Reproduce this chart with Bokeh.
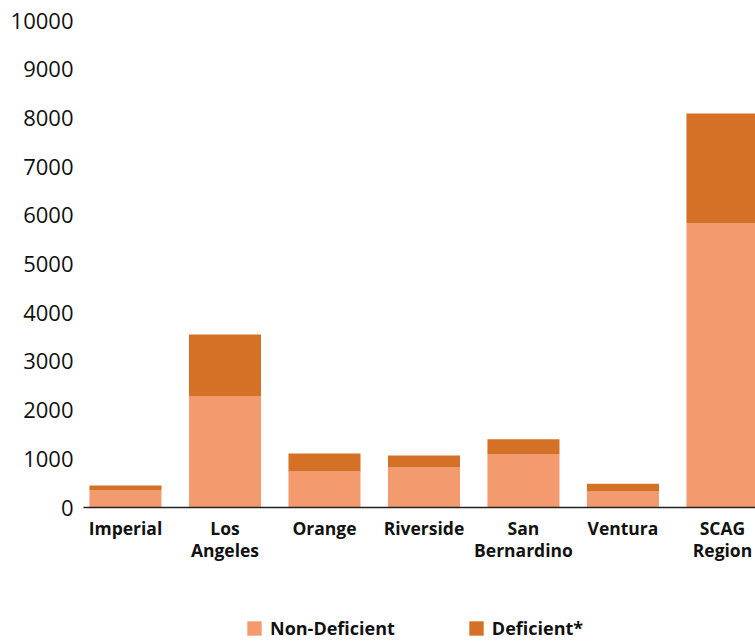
from bokeh.plotting import figure
from bokeh.layouts import column
from bokeh.models import ColumnDataSource, Range1d, FixedTicker, Legend, LegendItem
from bokeh.embed import file_html
from bokeh.resources import INLINE

# ---- data ----
categories = ["Imperial", "Los Angeles", "Orange", "Riverside", "San Bernardino", "Ventura", "SCAG Region"]
tick_labels = ["Imperial", "Los\nAngeles", "Orange", "Riverside", "San\nBernardino", "Ventura", "SCAG\nRegion"]
non_deficient = [350, 2280, 740, 820, 1090, 330, 5830]
deficient = [100, 1270, 370, 250, 310, 160, 2260]
y_ticks = [0, 1000, 2000, 3000, 4000, 5000, 6000, 7000, 8000, 9000, 10000]

series = ["non_deficient", "deficient"]
series_labels = ["Non-Deficient", "Deficient*"]
colors = ["#F39B6F", "#D57127"]

xpos = [i + 0.5 for i in range(len(categories))]
source = ColumnDataSource(dict(x=xpos, non_deficient=non_deficient, deficient=deficient))

FONT = "Open Sans"

fig = figure(width=755, height=610, output_backend="svg", toolbar_location=None,
             x_range=Range1d(0.078, 6.832), y_range=Range1d(0, 10000),
             min_border_left=83, min_border_right=0, min_border_top=20, min_border_bottom=103)
fig.outline_line_color = None
fig.background_fill_color = "white"
fig.border_fill_color = "white"
fig.xgrid.grid_line_color = None
fig.ygrid.grid_line_color = None

fig.vbar_stack(series, x="x", width=0.724, source=source, color=colors, line_color=None)

# y axis
fig.yaxis.ticker = FixedTicker(ticks=y_ticks)
fig.yaxis.axis_line_color = None
fig.yaxis.major_tick_line_color = None
fig.yaxis.minor_tick_line_color = None
fig.yaxis.major_tick_out = 0
fig.yaxis.major_tick_in = 0
fig.yaxis.major_label_standoff = 10
fig.yaxis.major_label_text_font = FONT
fig.yaxis.major_label_text_font_size = "22px"
fig.yaxis.major_label_text_color = "#111111"

# x axis
fig.xaxis.ticker = FixedTicker(ticks=xpos)
fig.xaxis.major_label_overrides = {x: lab for x, lab in zip(xpos, tick_labels)}
fig.xaxis.axis_line_color = "#222222"
fig.xaxis.axis_line_width = 1.5
fig.xaxis.major_tick_line_color = None
fig.xaxis.minor_tick_line_color = None
fig.xaxis.major_tick_out = 0
fig.xaxis.major_tick_in = 0
fig.xaxis.major_label_standoff = 8
fig.xaxis.major_label_text_font = FONT
fig.xaxis.major_label_text_font_style = "bold"
fig.xaxis.major_label_text_font_size = "17.5px"
fig.xaxis.major_label_text_color = "#111111"
fig.xaxis.major_label_text_line_height = 0.95

# legend strip below the chart (its frame is aligned with the chart frame at x=83)
leg_fig = figure(width=755, height=33, output_backend="svg", toolbar_location=None,
                 x_range=Range1d(0, 1), y_range=Range1d(0, 1), min_border=0,
                 min_border_left=83, x_axis_location=None, y_axis_location=None)
leg_fig.grid.visible = False
leg_fig.outline_line_color = None
leg_fig.background_fill_color = "white"
leg_fig.border_fill_color = "white"
# zero-height placeholder glyphs: only their legend swatches are seen
leg_renderers = [leg_fig.vbar(x=[0.5], bottom=[0.5], top=[0.5], width=0.1, color=c, line_color=None)
                 for c in colors]

legend = Legend(items=[LegendItem(label=series_labels[i], renderers=[leg_renderers[i]]) for i in range(2)],
                orientation="horizontal", location=(162, 3),
                glyph_width=18, glyph_height=18, label_height=18, label_standoff=7,
                spacing=72, padding=0, margin=0,
                border_line_color=None, background_fill_alpha=0,
                label_text_font=FONT, label_text_font_style="bold",
                label_text_font_size="18px", label_text_color="#111111")
leg_fig.add_layout(legend, "center")

p = column(fig, leg_fig, spacing=0)

open("out.html", "w").write(file_html(p, INLINE))
